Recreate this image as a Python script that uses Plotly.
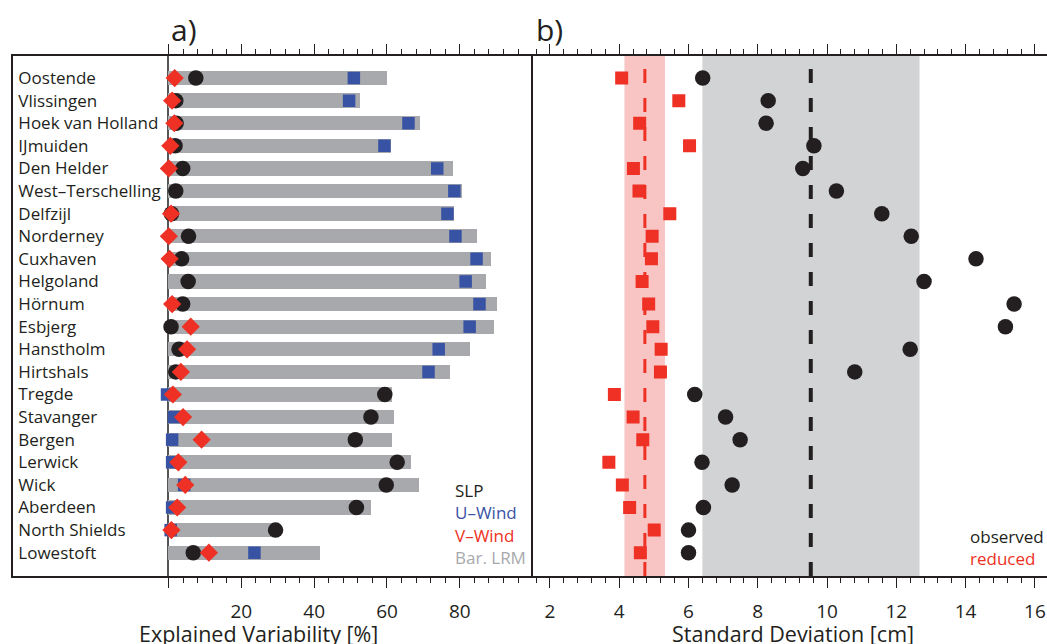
import numpy as np
import plotly.graph_objects as go

stations = ["Oostende", "Vlissingen", "Hoek van Holland", "IJmuiden", "Den Helder",
            "West–Terschelling", "Delfzijl", "Norderney", "Cuxhaven", "Helgoland",
            "Hörnum", "Esbjerg", "Hanstholm", "Hirtshals", "Tregde", "Stavanger",
            "Bergen", "Lerwick", "Wick", "Aberdeen", "North Shields", "Lowestoft"]

# Panel a: explained variability [%]
bar_lrm = [60.1, 52.7, 69.2, 61.2, 78.0, 80.7, 78.5, 84.6, 88.5, 87.1, 90.3, 89.5,
           82.7, 77.4, 61.5, 61.8, 61.5, 66.7, 68.7, 55.7, 29.9, 41.6]
u_wind = [50.9, 49.6, 65.9, 59.3, 73.8, 78.5, 76.6, 78.8, 84.6, 81.6, 85.4, 82.7,
          74.2, 71.4, -0.4, 1.5, 1.0, 1.0, 4.3, 1.0, 0.6, 23.6]
slp = [7.5, 2.0, 2.1, 1.8, 3.9, 2.0, 0.8, 5.5, 3.6, 5.4, 3.9, 0.7,
       2.9, 2.0, 59.4, 55.6, 51.3, 62.8, 59.8, 51.6, 29.4, 6.8]
v_wind = [1.7, 1.0, 1.6, 0.5, 0.1, None, 0.7, 0.1, 0.3, None, 1.0, 6.1,
          5.1, 3.4, 1.2, 4.0, 9.1, 2.7, 4.6, 2.4, 0.8, 11.1]

# Panel b: standard deviation [cm]
observed = [6.41, 8.30, 8.24, 9.62, 9.30, 10.27, 11.58, 12.43, 14.30, 12.80, 15.40, 15.15,
            12.40, 10.80, 6.18, 7.07, 7.49, 6.39, 7.26, 6.43, 6.00, 6.00]
reduced = [4.07, 5.72, 4.59, 6.03, 4.41, 4.57, 5.46, 4.95, 4.93, 4.66, 4.85, 4.97,
           5.21, 5.19, 3.86, 4.40, 4.68, 3.70, 4.09, 4.30, 5.01, 4.61]
reduced_band = [4.15, 5.32]
reduced_mean = 4.74
observed_band = [6.40, 12.67]
observed_mean = 9.53

xa_ticks = [0, 20, 40, 60, 80]
xa_ticktext = ["", "20", "40", "60", "80"]
xb_ticks = [2, 4, 6, 8, 10, 12, 14, 16]

BLACK = "#231f20"
BLUE = "#3953a4"
RED = "#ee3124"
GRAY = "#a7a9ac"
FONT = "Open Sans"

fig = go.Figure()

fig.add_trace(go.Bar(y=stations, x=bar_lrm, base=0, orientation="h", width=0.635,
                     marker=dict(color=GRAY, line=dict(width=0)),
                     xaxis="x", yaxis="y", showlegend=False))
fig.add_trace(go.Scatter(y=stations, x=u_wind, mode="markers",
                         marker=dict(symbol="square", size=12.5, color=BLUE),
                         xaxis="x", yaxis="y", showlegend=False))
fig.add_trace(go.Scatter(y=stations, x=slp, mode="markers",
                         marker=dict(symbol="circle", size=15.5, color=BLACK),
                         xaxis="x", yaxis="y", showlegend=False))
fig.add_trace(go.Scatter(y=stations, x=v_wind, mode="markers",
                         marker=dict(symbol="diamond", size=14, color=RED),
                         xaxis="x", yaxis="y", showlegend=False))

fig.add_trace(go.Scatter(y=stations, x=reduced, mode="markers",
                         marker=dict(symbol="square", size=13, color=RED),
                         xaxis="x2", yaxis="y2", showlegend=False))
fig.add_trace(go.Scatter(y=stations, x=observed, mode="markers",
                         marker=dict(symbol="circle", size=15.5, color=BLACK),
                         xaxis="x2", yaxis="y2", showlegend=False))

# bands and mean lines in panel b
fig.add_shape(type="rect", xref="x2", yref="paper", x0=reduced_band[0], x1=reduced_band[1],
              y0=0, y1=1, fillcolor="#f8c4c4", line=dict(width=0), layer="below")
fig.add_shape(type="rect", xref="x2", yref="paper", x0=observed_band[0], x1=observed_band[1],
              y0=0, y1=1, fillcolor="#d1d3d4", line=dict(width=0), layer="below")
fig.add_shape(type="line", xref="x2", yref="paper", x0=reduced_mean, x1=reduced_mean,
              y0=0, y1=0.975, line=dict(color=RED, width=3, dash="14px,15px"), layer="below")
fig.add_shape(type="line", xref="x2", yref="paper", x0=observed_mean, x1=observed_mean,
              y0=0, y1=0.975, line=dict(color=BLACK, width=4, dash="14px,15px"), layer="below")

W, H = 1047, 644
ml, mr, mt, mb = 12.5, 0, 56, 644 - 576
pw = W - ml - mr
ph = H - mt - mb
split = (532.4 - ml) / pw

def px(x):
    return (x - ml) / pw

def py(y):
    return (H - mb - y) / ph

axis_common = dict(showline=True, linecolor=BLACK, linewidth=1.5, mirror="ticks",
                   ticks="outside", ticklen=10, tickwidth=1.3, tickcolor=BLACK,
                   showgrid=False, tickfont=dict(family=FONT, size=19, color=BLACK),
                   ticklabelstandoff=7)

minor_a = list(np.arange(-4.3, -42.5, -4.3)) + list(np.arange(4, 100, 4))

fig.update_layout(
    width=W, height=H,
    margin=dict(l=ml, r=mr, t=mt, b=mb, autoexpand=False),
    paper_bgcolor="white", plot_bgcolor="white",
    font=dict(family=FONT, color=BLACK),
    bargap=0,
    xaxis=dict(domain=[0, split], range=[-42.7, 100.0], tickvals=xa_ticks, ticktext=xa_ticktext,
               zeroline=True, zerolinecolor="#555555", zerolinewidth=1.5,
               minor=dict(tickvals=minor_a, ticks="outside", ticklen=5, tickwidth=1.2, tickcolor=BLACK),
               anchor="y", **axis_common),
    xaxis2=dict(domain=[split, 1], range=[1.5, 16.35], tickvals=xb_ticks,
                zeroline=False,
                minor=dict(tick0=2, dtick=0.4, ticks="outside", ticklen=5, tickwidth=1.2, tickcolor=BLACK),
                anchor="y2", **axis_common),
    yaxis=dict(type="category", categoryorder="array", categoryarray=stations,
               range=[22.03, -0.975], showline=True, linecolor=BLACK, linewidth=1.5,
               ticks="", ticklabelposition="inside", ticklabelstandoff=6,
               showgrid=False, zeroline=False,
               tickfont=dict(family=FONT, size=17, color=BLACK), anchor="x"),
    yaxis2=dict(type="category", categoryorder="array", categoryarray=stations,
                range=[22.03, -0.975], showline=True, linecolor=BLACK, linewidth=1.5,
                ticks="", showticklabels=False, showgrid=False, zeroline=False,
                anchor="x2", matches="y"),
)

ann = []
ann.append(dict(text="a)", xref="x", yref="paper", x=0, xshift=1, y=py(30), xanchor="left",
                yanchor="middle", showarrow=False, font=dict(family=FONT, size=30, color=BLACK)))
ann.append(dict(text="b)", xref="x2", yref="paper", x=1.5, xshift=1, y=py(30), xanchor="left",
                yanchor="middle", showarrow=False, font=dict(family=FONT, size=30, color=BLACK)))
ann.append(dict(text="Explained Variability [%]", xref="paper", yref="paper", x=px(258.5), y=py(633),
                xanchor="center", yanchor="middle", showarrow=False,
                font=dict(family=FONT, size=21.5, color=BLACK)))
ann.append(dict(text="Standard Deviation [cm]", xref="paper", yref="paper", x=px(793), y=py(633),
                xanchor="center", yanchor="middle", showarrow=False,
                font=dict(family=FONT, size=21.5, color=BLACK)))
for txt, col, yy in [("SLP", BLACK, 490.7), ("U–Wind", BLUE, 512.3),
                     ("V–Wind", RED, 535), ("Bar. LRM", GRAY, 557.3)]:
    ann.append(dict(text=txt, xref="paper", yref="paper", x=px(452.5), y=py(yy), xanchor="left",
                    yanchor="middle", showarrow=False, font=dict(family=FONT, size=17, color=col)))
for txt, col, yy in [("observed", BLACK, 536), ("reduced", RED, 558)]:
    ann.append(dict(text=txt, xref="paper", yref="paper", x=px(968), y=py(yy), xanchor="left",
                    yanchor="middle", showarrow=False, font=dict(family=FONT, size=17, color=col)))
fig.update_layout(annotations=ann)

fig.write_html("out.html", config={"displayModeBar": False},
               post_script="document.body.style.margin='0';document.body.style.overflow='hidden';")
